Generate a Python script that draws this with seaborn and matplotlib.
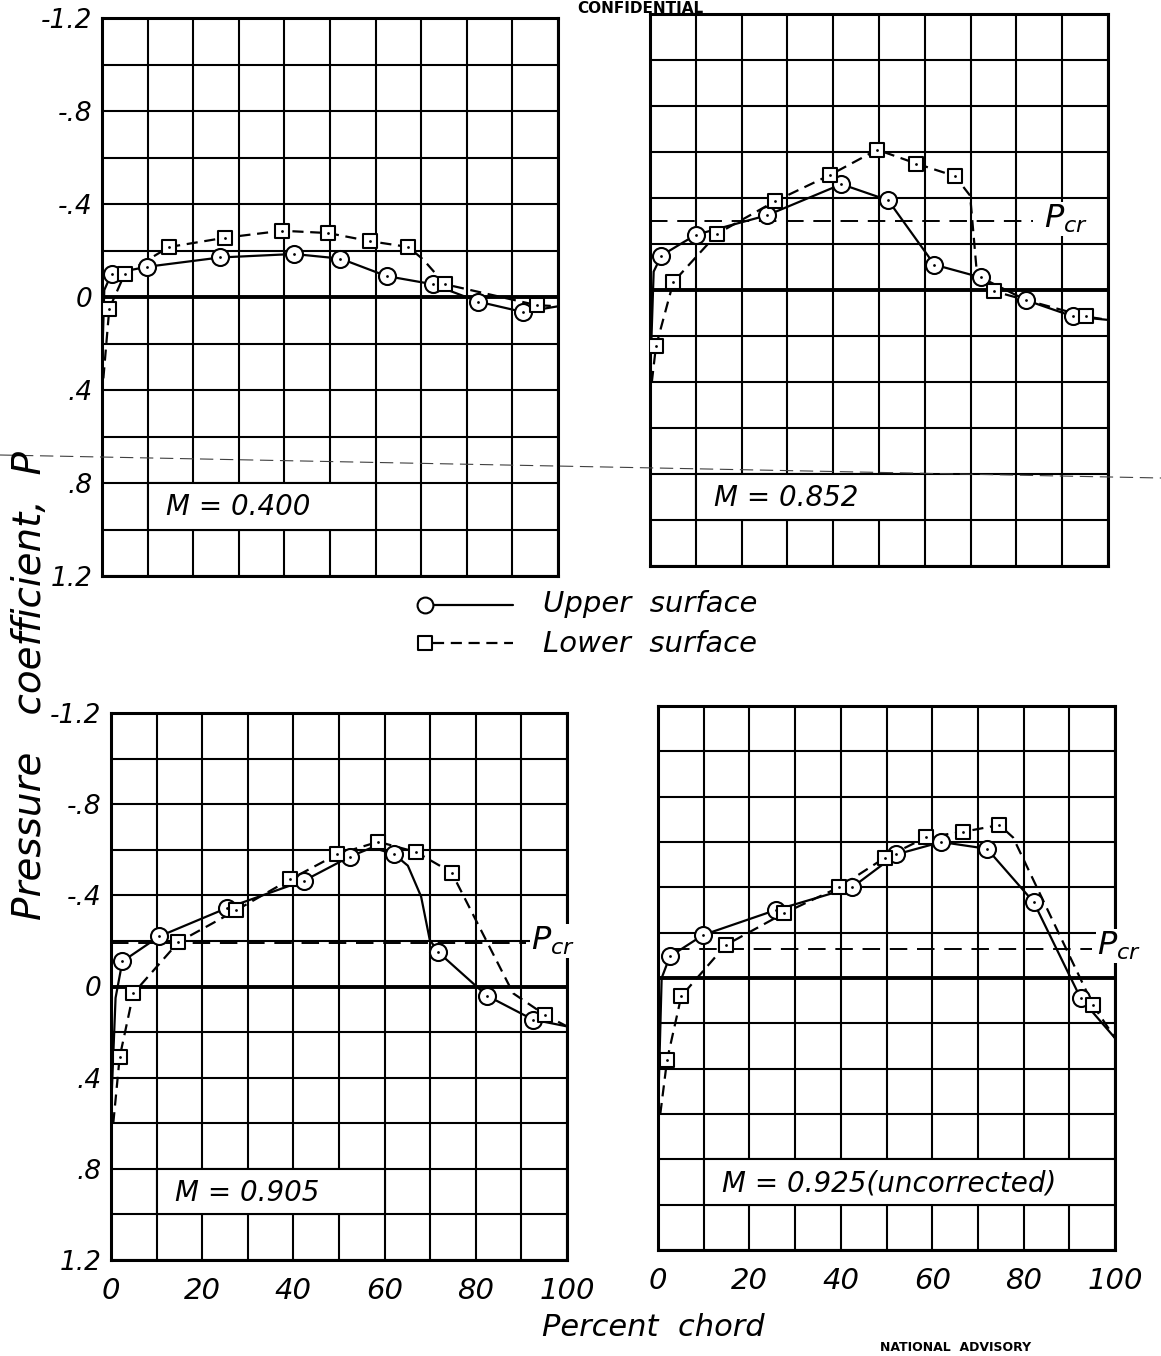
import numpy as np
import matplotlib
matplotlib.use("Agg")
import matplotlib.pyplot as plt
import seaborn as sns
from matplotlib.patches import Rectangle

# ---------------- data (percent chord, pressure coefficient P) ----------------
mach_labels = ["M = 0.400", "M = 0.852", "M = 0.905", "M = 0.925(uncorrected)"]

# M = 0.400
up_x_400 = [2.1, 9.9, 25.9, 42.1, 52.3, 62.4, 72.5, 82.5, 92.4]
up_p_400 = [-0.10, -0.13, -0.17, -0.185, -0.165, -0.09, -0.055, 0.02, 0.065]
lo_x_400 = [1.6, 5.0, 14.7, 27.0, 39.5, 49.6, 58.8, 67.2, 75.2, 95.3]
lo_p_400 = [0.05, -0.10, -0.215, -0.255, -0.285, -0.275, -0.24, -0.215, -0.055, 0.035]

# M = 0.852
up_x_852 = [2.5, 10.0, 25.6, 41.8, 52.0, 62.1, 72.2, 82.2, 92.4]
up_p_852 = [-0.15, -0.24, -0.325, -0.46, -0.39, -0.11, -0.055, 0.045, 0.115]
lo_x_852 = [1.3, 5.1, 14.7, 27.2, 39.3, 49.6, 58.1, 66.6, 75.0, 95.1]
lo_p_852 = [0.245, -0.035, -0.245, -0.385, -0.50, -0.61, -0.55, -0.495, 0.005, 0.115]

# M = 0.905
up_x_905 = [2.5, 10.6, 25.5, 42.4, 52.4, 62.1, 71.8, 82.4, 92.5]
up_p_905 = [-0.11, -0.22, -0.345, -0.465, -0.57, -0.58, -0.15, 0.04, 0.145]
lo_x_905 = [1.9, 4.9, 14.8, 27.5, 39.3, 49.6, 58.6, 66.9, 74.7, 95.2]
lo_p_905 = [0.31, 0.03, -0.195, -0.335, -0.47, -0.58, -0.635, -0.59, -0.50, 0.125]

# M = 0.925
up_x_925 = [2.6, 9.9, 25.8, 42.5, 52.1, 62.0, 72.0, 82.2, 92.5]
up_p_925 = [-0.095, -0.19, -0.30, -0.40, -0.545, -0.60, -0.57, -0.335, 0.09]
lo_x_925 = [2.0, 5.1, 14.8, 27.5, 39.6, 49.6, 58.6, 66.8, 74.7, 95.2]
lo_p_925 = [0.36, 0.08, -0.145, -0.285, -0.40, -0.53, -0.62, -0.645, -0.675, 0.12]

# faired-curve points (leading edge, bends, trailing edge)
up_fair_x = [[0.0, 0.5, 100.0], [0.0, 0.8, 100.0],
             [0.0, 1.0, 57.3, 65.1, 68.0, 69.9, 100.0], [0.0, 0.8, 100.0]]
up_fair_p = [[0.30, -0.03, 0.04], [0.40, -0.08, 0.13],
             [0.55, 0.05, -0.61, -0.53, -0.395, -0.205, 0.175], [0.60, 0.0, 0.265]]
lo_fair_x = [[0.3, 70.5, 100.0], [0.4, 69.9, 71.3, 100.0],
             [0.5, 88.2, 100.0], [0.5, 77.7, 100.0]]
lo_fair_p = [[0.35, -0.16, 0.04], [0.40, -0.41, -0.09, 0.13],
             [0.60, 0.03, 0.175], [0.60, -0.62, 0.265]]

# critical pressure coefficient
pcr_values = [None, -0.30, -0.19, -0.13]
pcr_extent = [None, (0.0, 83.6), (0.0, 91.0), (3.0, 95.0)]
pcr_label_x = [None, 86.0, 92.0, 96.0]

x_ticks = [0, 10, 20, 30, 40, 50, 60, 70, 80, 90, 100]
x_tick_labels = ["0", "", "20", "", "40", "", "60", "", "80", "", "100"]
y_ticks = [-1.2, -1.0, -0.8, -0.6, -0.4, -0.2, 0.0, 0.2, 0.4, 0.6, 0.8, 1.0, 1.2]
y_tick_labels = ["-1.2", "", "-.8", "", "-.4", "", "0", "", ".4", "", ".8", "", "1.2"]

up_x_all = [up_x_400, up_x_852, up_x_905, up_x_925]
up_p_all = [up_p_400, up_p_852, up_p_905, up_p_925]
lo_x_all = [lo_x_400, lo_x_852, lo_x_905, lo_x_925]
lo_p_all = [lo_p_400, lo_p_852, lo_p_905, lo_p_925]

# ---------------- figure ----------------
sns.set_theme(style="white")
plt.rcParams["font.family"] = ["DejaVu Sans"]
plt.rcParams["mathtext.fontset"] = "dejavusans"
plt.rcParams["text.color"] = "black"
plt.rcParams["xtick.color"] = "black"
plt.rcParams["ytick.color"] = "black"
plt.rcParams["axes.labelcolor"] = "black"

W, H = 1161, 1356
fig = plt.figure(figsize=(W / 100, H / 100), dpi=100)
fig.patch.set_facecolor("white")

# panel rectangles in pixels (x0, y0, w, h)
rects = [(102, 18, 456, 558), (650, 14, 458, 552),
         (111, 713, 456, 547), (658, 706, 457, 544)]
box_widths = [50, 50, 50, 90]
DASH_LO = (0, (5.0, 3.0))


def merged(mx, mp, fx, fp):
    pts = sorted(zip(list(mx) + list(fx), list(mp) + list(fp)))
    return [p[0] for p in pts], [p[1] for p in pts]


for i, (x0, y0, w, h) in enumerate(rects):
    ax = fig.add_axes([x0 / W, 1 - (y0 + h) / H, w / W, h / H])
    ax.set_xlim(0, 100)
    ax.set_ylim(1.2, -1.2)
    ax.set_xticks(x_ticks)
    ax.set_yticks(y_ticks)
    ax.grid(True, color="black", lw=1.5, zorder=0)
    ax.set_axisbelow(True)
    ax.axhline(0, color="black", lw=2.8, zorder=1)
    for s in ax.spines.values():
        s.set_linewidth(2.2)
        s.set_color("black")
        s.set_visible(True)
    ax.tick_params(length=0)
    if i in (0, 2):
        ax.set_yticklabels(y_tick_labels, fontsize=19, style="italic")
        ax.tick_params(axis="y", pad=7)
    else:
        ax.set_yticklabels([""] * len(y_ticks))
    if i in (2, 3):
        ax.set_xticklabels(x_tick_labels, fontsize=21, style="italic")
        ax.tick_params(axis="x", pad=12)
    else:
        ax.set_xticklabels([""] * len(x_ticks))
    ax.set_xlabel("")
    ax.set_ylabel("")

    # Mach number box
    ax.add_patch(Rectangle((10, 0.8), box_widths[i], 0.2, facecolor="white",
                           edgecolor="black", lw=1.5, zorder=2))
    ax.text(14, 0.905, mach_labels[i], fontsize=20, style="italic",
            va="center", ha="left", zorder=3)

    # critical pressure line
    if pcr_values[i] is not None:
        xa, xb = pcr_extent[i]
        sns.lineplot(x=[xa, xb], y=[pcr_values[i]] * 2, ax=ax, color="black",
                     lw=1.4, linestyle=(0, (9, 5)), zorder=2)
        ax.text(pcr_label_x[i], pcr_values[i] - 0.01, r"$P_{cr}$", fontsize=23,
                va="center", ha="left", zorder=3, clip_on=False,
                bbox=dict(facecolor="white", edgecolor="none", pad=0.5))

    # faired curves
    ux, up = merged(up_x_all[i], up_p_all[i], up_fair_x[i], up_fair_p[i])
    lx, lp = merged(lo_x_all[i], lo_p_all[i], lo_fair_x[i], lo_fair_p[i])
    sns.lineplot(x=ux, y=up, ax=ax, color="black", lw=1.6, sort=False,
                 estimator=None, zorder=3)
    sns.lineplot(x=lx, y=lp, ax=ax, color="black", lw=1.6, sort=False,
                 estimator=None, linestyle=DASH_LO, zorder=3)

    # markers
    sns.scatterplot(x=up_x_all[i], y=up_p_all[i], ax=ax, marker="o", s=150,
                    color="white", edgecolor="black", linewidth=1.5, zorder=4)
    sns.scatterplot(x=lo_x_all[i], y=lo_p_all[i], ax=ax, marker="s", s=95,
                    color="white", edgecolor="black", linewidth=1.5, zorder=4)
    sns.scatterplot(x=up_x_all[i] + lo_x_all[i], y=up_p_all[i] + lo_p_all[i],
                    ax=ax, marker="o", s=4, color="black", linewidth=0, zorder=5)
    if ax.get_legend() is not None:
        ax.get_legend().remove()

# ---------------- overlay for figure-level text ----------------
ov = fig.add_axes([0, 0, 1, 1])
ov.set_xlim(0, W)
ov.set_ylim(H, 0)
ov.axis("off")

# legend
ov.plot([433, 513], [605, 605], color="black", lw=1.6)
ov.scatter([425], [605], marker="o", s=130, color="white", edgecolor="black",
           linewidth=1.5, zorder=3)
ov.plot([433, 513], [643, 643], color="black", lw=1.6, linestyle=DASH_LO)
ov.scatter([425], [643], marker="s", s=95, color="white", edgecolor="black",
           linewidth=1.5, zorder=3)
ov.text(543, 604, "Upper  surface", fontsize=21, style="italic", va="center", ha="left")
ov.text(543, 644, "Lower  surface", fontsize=21, style="italic", va="center", ha="left")

# axis titles
ov.text(30, 685, "Pressure   coefficient,  P", rotation=90, fontsize=28,
        style="italic", va="center", ha="center")
ov.text(653, 1328, "Percent  chord", fontsize=22, style="italic",
        va="center", ha="center")

# page marks
ov.text(640, 1, "CONFIDENTIAL", fontsize=11, weight="bold", va="top", ha="center")
ov.text(880, 1354, "NATIONAL  ADVISORY", fontsize=9, weight="bold", va="bottom", ha="left")

# scan fold line
ov.plot([0, 1161], [455, 478], color="0.25", lw=0.8, linestyle=(0, (12, 6)))

fig.savefig("out.png", dpi=100, facecolor="white")
